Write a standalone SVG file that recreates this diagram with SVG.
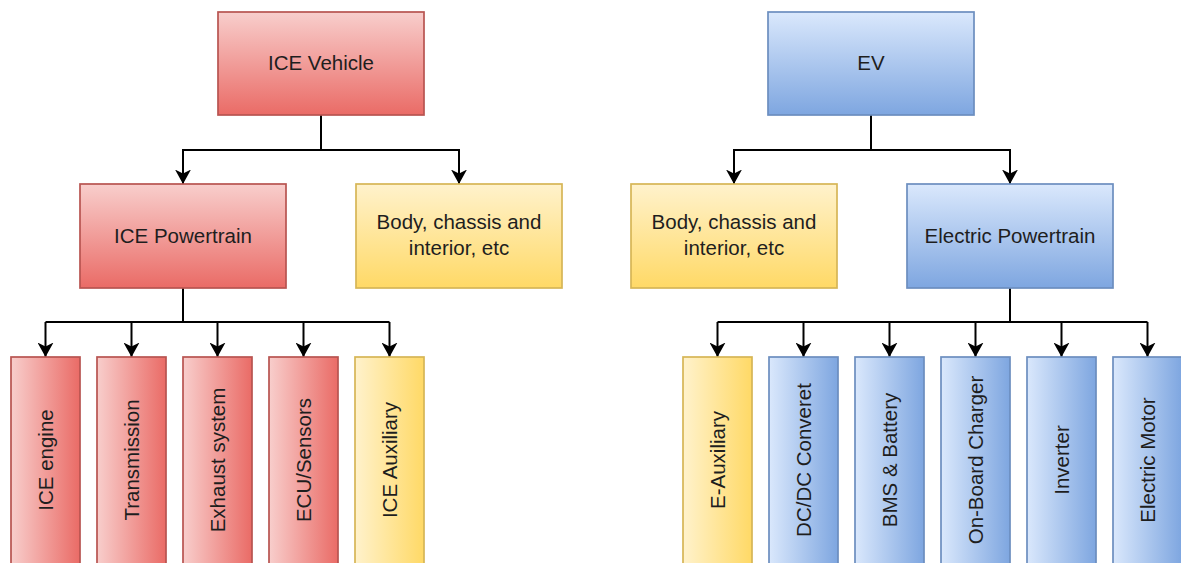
<svg xmlns="http://www.w3.org/2000/svg" width="1181" height="563" viewBox="0 0 1181 563">
<style>
.t{font-family:"Liberation Sans",Arial,sans-serif;font-size:20.5px;fill:#1e1e1e;text-anchor:middle}
.red{fill:url(#gRedV);stroke:#b85450;stroke-width:1.7}
.yel{fill:url(#gYelV);stroke:#d6b656;stroke-width:1.7}
.blu{fill:url(#gBluV);stroke:#6c8ebf;stroke-width:1.7}
.redH{fill:url(#gRedH);stroke:#b85450;stroke-width:1.7}
.yelH{fill:url(#gYelH);stroke:#d6b656;stroke-width:1.7}
.bluH{fill:url(#gBluH);stroke:#6c8ebf;stroke-width:1.7}
.c{fill:none;stroke:#000;stroke-width:2;marker-end:url(#arr)}
.l{fill:none;stroke:#000;stroke-width:2}
</style>
<defs>
<linearGradient id="gRedV" x1="0" y1="0" x2="0" y2="1"><stop offset="0" stop-color="#f8cecc"/><stop offset="1" stop-color="#ea6b66"/></linearGradient>
<linearGradient id="gYelV" x1="0" y1="0" x2="0" y2="1"><stop offset="0" stop-color="#fff2cc"/><stop offset="1" stop-color="#ffd966"/></linearGradient>
<linearGradient id="gBluV" x1="0" y1="0" x2="0" y2="1"><stop offset="0" stop-color="#dae8fc"/><stop offset="1" stop-color="#7ea6e0"/></linearGradient>
<linearGradient id="gRedH" x1="0" y1="0" x2="1" y2="0"><stop offset="0" stop-color="#f8cecc"/><stop offset="1" stop-color="#ea6b66"/></linearGradient>
<linearGradient id="gYelH" x1="0" y1="0" x2="1" y2="0"><stop offset="0" stop-color="#fff2cc"/><stop offset="1" stop-color="#ffd966"/></linearGradient>
<linearGradient id="gBluH" x1="0" y1="0" x2="1" y2="0"><stop offset="0" stop-color="#dae8fc"/><stop offset="1" stop-color="#7ea6e0"/></linearGradient>
<marker id="arr" viewBox="0 0 15 16" refX="14.5" refY="8" markerWidth="15" markerHeight="16" markerUnits="userSpaceOnUse" orient="auto">
<path d="M0,0 L14.5,8 L0,16 L4,8 Z" fill="#000"/>
</marker>
</defs>

<g id="connectors">
<path class="c" d="M321,115 V150 H183 V184"/>
<path class="c" d="M321,115 V150 H459 V184"/>
<path class="c" d="M871,115 V150 H734 V184"/>
<path class="c" d="M871,115 V150 H1010 V184"/>
<path class="l" d="M183,288 V322 M45.5,322 H389.5"/>
<path class="c" d="M45.5,322 V357"/>
<path class="c" d="M131.5,322 V357"/>
<path class="c" d="M217.5,322 V357"/>
<path class="c" d="M303.5,322 V357"/>
<path class="c" d="M389.5,322 V357"/>
<path class="l" d="M1010,288 V322 M717.5,322 H1147.5"/>
<path class="c" d="M717.5,322 V357"/>
<path class="c" d="M803.5,322 V357"/>
<path class="c" d="M889.5,322 V357"/>
<path class="c" d="M975.5,322 V357"/>
<path class="c" d="M1061.5,322 V357"/>
<path class="c" d="M1147.5,322 V357"/>
</g>

<g id="ice-vehicle"><rect class="red" x="218" y="12" width="206" height="103"/><text class="t" x="321" y="69.5">ICE Vehicle</text></g>
<g id="ice-powertrain"><rect class="red" x="80" y="184" width="206" height="104"/><text class="t" x="183" y="243">ICE Powertrain</text></g>
<g id="body-left"><rect class="yel" x="356" y="184" width="206" height="104"/><text class="t" x="459" y="229">Body, chassis and</text><text class="t" x="459" y="255">interior, etc</text></g>

<g id="ev"><rect class="blu" x="768" y="12" width="206" height="103"/><text class="t" x="871" y="69.5">EV</text></g>
<g id="body-right"><rect class="yel" x="631" y="184" width="206" height="104"/><text class="t" x="734" y="229">Body, chassis and</text><text class="t" x="734" y="255">interior, etc</text></g>
<g id="electric-powertrain"><rect class="blu" x="907" y="184" width="206" height="104"/><text class="t" x="1010" y="243">Electric Powertrain</text></g>

<g id="ice-engine"><rect class="redH" x="11" y="357" width="69" height="215"/><text class="t" transform="translate(45.5,460) rotate(-90)" y="7">ICE engine</text></g>
<g id="transmission"><rect class="redH" x="97" y="357" width="69" height="215"/><text class="t" transform="translate(131.5,460) rotate(-90)" y="7">Transmission</text></g>
<g id="exhaust"><rect class="redH" x="183" y="357" width="69" height="215"/><text class="t" transform="translate(217.5,460) rotate(-90)" y="7">Exhaust system</text></g>
<g id="ecu"><rect class="redH" x="269" y="357" width="69" height="215"/><text class="t" transform="translate(303.5,460) rotate(-90)" y="7">ECU/Sensors</text></g>
<g id="ice-aux"><rect class="yelH" x="355" y="357" width="69" height="215"/><text class="t" transform="translate(389.5,460) rotate(-90)" y="7">ICE Auxiliary</text></g>

<g id="e-aux"><rect class="yelH" x="683" y="357" width="69" height="215"/><text class="t" transform="translate(717.5,460) rotate(-90)" y="7">E-Auxiliary</text></g>
<g id="dcdc"><rect class="bluH" x="769" y="357" width="69" height="215"/><text class="t" transform="translate(803.5,460) rotate(-90)" y="7">DC/DC Converet</text></g>
<g id="bms"><rect class="bluH" x="855" y="357" width="69" height="215"/><text class="t" transform="translate(889.5,460) rotate(-90)" y="7">BMS &amp; Battery</text></g>
<g id="obc"><rect class="bluH" x="941" y="357" width="69" height="215"/><text class="t" transform="translate(975.5,460) rotate(-90)" y="7">On-Board Charger</text></g>
<g id="inverter"><rect class="bluH" x="1027" y="357" width="69" height="215"/><text class="t" transform="translate(1061.5,460) rotate(-90)" y="7">Inverter</text></g>
<g id="motor"><rect class="bluH" x="1113" y="357" width="69" height="215"/><text class="t" transform="translate(1147.5,460) rotate(-90)" y="7">Electric Motor</text></g>
</svg>
